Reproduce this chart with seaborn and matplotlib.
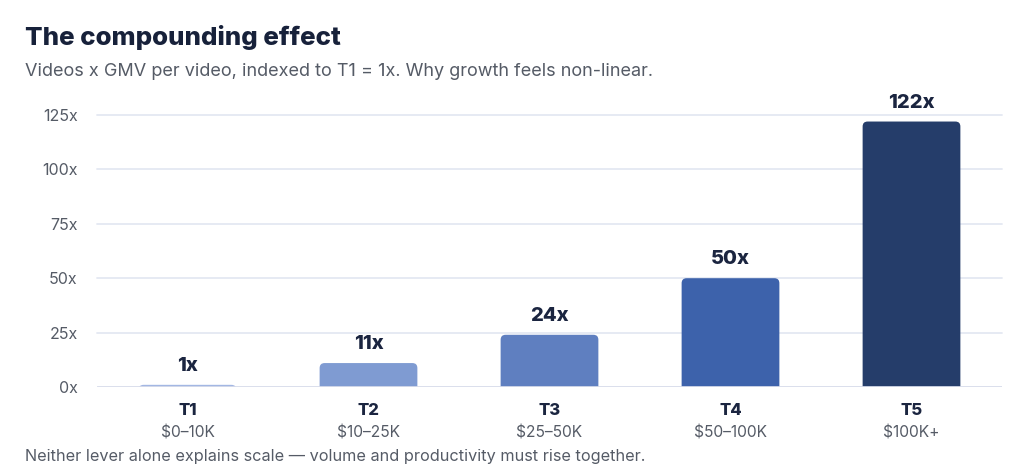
import matplotlib
matplotlib.use("Agg")
import matplotlib.pyplot as plt
import seaborn as sns
import pandas as pd
from matplotlib.patches import FancyBboxPatch

# data
tiers = ["T1", "T2", "T3", "T4", "T5"]
ranges = ["$0\u201310K", "$10\u201325K", "$25\u201350K", "$50\u2013100K", "$100K+"]
index_values = [1, 11, 24, 50, 122]
colors = ["#a3b7e3", "#7f9bd2", "#5f7fc0", "#3d62ab", "#253d6a"]
yticks = [0, 25, 50, 75, 100, 125]

df = pd.DataFrame({"tier": tiers, "value": index_values})

sns.set_theme(style="white")
plt.rcParams["font.family"] = ["Inter", "DejaVu Sans"]

fig = plt.figure(figsize=(10.24, 4.75), dpi=100)
ax = fig.add_axes([97 / 1024, 1 - 387 / 475, 905 / 1024, 272 / 475])

sns.barplot(data=df, x="tier", y="value", hue="tier", palette=colors,
            legend=False, width=0.54, saturation=1, ax=ax, zorder=3)

ax.set_xlim(-0.5, 4.5)
ax.set_ylim(0, 125)

# swap square bars for rounded-top ones (bottom hidden below the axis)
px_x = 905 / 5.0
px_y = 272 / 125.0
rad = 5 / px_x
for p in list(ax.patches):
    x0, w, h = p.get_x(), p.get_width(), p.get_height()
    fc = p.get_facecolor()
    p.set_visible(False)
    extra = 6 / px_y
    rb = FancyBboxPatch((x0, -extra), w, h + extra,
                        boxstyle=f"round,pad=0,rounding_size={rad}",
                        mutation_aspect=px_x / px_y,
                        facecolor=fc, edgecolor="none", zorder=3)
    ax.add_patch(rb)
    ax.annotate(f"{h:g}x", (x0 + w / 2, h), xytext=(0, 10),
                textcoords="offset points", ha="center", va="baseline",
                fontsize=14.5, fontweight="heavy", color="#1b2540",
                annotation_clip=False)

# grid
for t in yticks[1:]:
    ax.axhline(t, color="#e4e8f2", lw=1.3, zorder=1, clip_on=False)
ax.axhline(0, color="#d7dcea", lw=2, zorder=4)

sns.despine(ax=ax, left=True, bottom=True)
ax.set_yticks(yticks)
ax.set_yticklabels([f"{t}x" for t in yticks], fontsize=11.5, color="#555b66")
ax.tick_params(axis="y", length=0, pad=14)
ax.set_xticks([])
ax.set_xlabel("")
ax.set_ylabel("")

trans = ax.get_xaxis_transform()
for i, (t, r) in enumerate(zip(tiers, ranges)):
    ax.text(i, -0.085, t, transform=trans, ha="center", va="center",
            fontsize=12, fontweight="heavy", color="#1b2540")
    ax.text(i, -0.17, r, transform=trans, ha="center", va="center",
            fontsize=11.2, color="#555b66")

fig.text(25 / 1024, 1 - 38 / 475, "The compounding effect", ha="left", va="center",
         fontsize=18.6, fontweight="heavy", color="#17213a")
fig.text(25 / 1024, 1 - 72 / 475,
         "Videos x GMV per video, indexed to T1 = 1x. Why growth feels non-linear.",
         ha="left", va="center", fontsize=13, color="#555b66")
fig.text(25 / 1024, 1 - 457 / 475,
         "Neither lever alone explains scale \u2014 volume and productivity must rise together.",
         ha="left", va="center", fontsize=11.7, color="#555b66")

fig.savefig("out.png", dpi=100, facecolor="white")
